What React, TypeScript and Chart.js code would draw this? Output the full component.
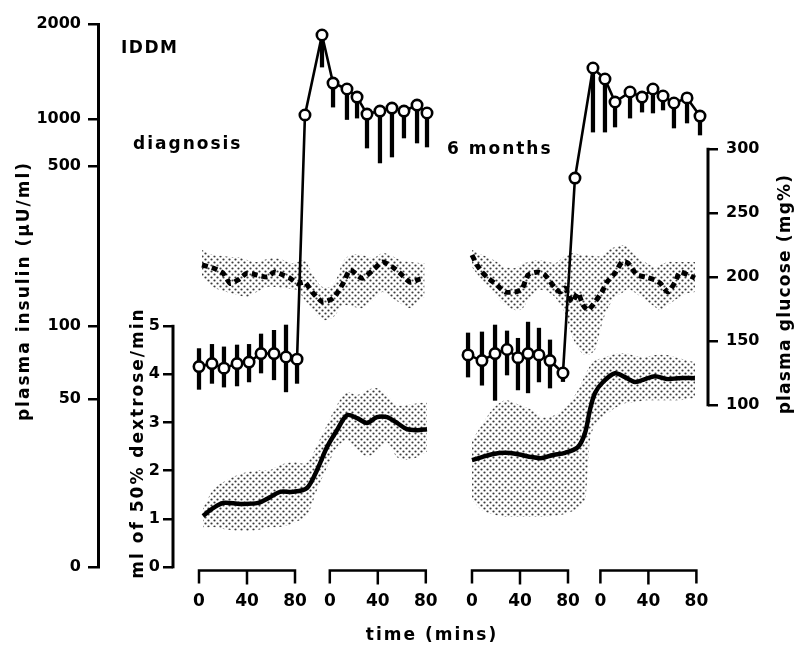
import React, { useEffect, useRef } from 'react';
import { Chart, registerables, LinearScale } from 'chart.js';

// ---------------- data ----------------
const studyLabel = 'IDDM';
const panelNames = ['diagnosis', '6 months'];
const timeTickMinutes = [0, 40, 80];
const timeTickLabels = ['0', '40', '80'];
// where each panel starts on the shared time axis, and where the clamp period axis starts inside a panel (minutes)
const PANEL_START = [0, 227.5];
const CLAMP_START = [109, 107];

const insulinTicks = [0, 50, 100, 500, 1000, 2000];
const dextroseTicks = [0, 1, 2, 3, 4, 5];
const glucoseTicks = [100, 150, 200, 250, 300];

// ---- diagnosis panel ----
const insTimeL = [0, 10.8, 20.8, 31.7, 41.7, 51.7, 62.5, 72.5, 81.7, 88.3, 102.5, 111.7, 123.3, 131.7, 140, 150.8, 160.8, 170.8, 181.7, 190];
const insulinL = [68, 70, 67, 70, 71, 77, 77, 74.5, 73, 1030, 1846, 1300, 1245, 1174, 1037, 1060, 1083, 1060, 1107, 1045];
const insErrUpL = [12.7, 14, 15, 13.5, 13, 15.7, 19, 26.5, 0, 0, 0, 0, 0, 0, 0, 0, 0, 0, 0, 0];
const insErrDownL = [13.2, 12, 11, 13.4, 12.2, 13, 17, 21, 15, 0, 385, 209, 252, 167, 385, 537, 512, 304, 405, 383];

const gluTimeL = [2.5, 11.7, 20, 26, 32.5, 40, 48, 57, 63, 70, 76, 82, 88, 95, 103, 112, 120, 126, 136, 145, 153, 161, 167.5, 176, 184, 188];
const glucoseL = [209.4, 207, 203, 195, 197.7, 203, 201.6, 200, 204, 201.6, 199, 195, 196, 187.5, 180.5, 183.6, 195, 205.5, 199, 205.5, 211.7, 208, 203, 196, 198.4, 199];
const gluHighL = [221.1, 217.2, 216.4, 215.6, 215.6, 213.3, 211.7, 214.1, 214.8, 213.3, 210.9, 211.7, 213.3, 201.6, 192.2, 193.8, 211.7, 217.2, 217.2, 214.8, 218.8, 216.4, 213.3, 211.7, 210.9, 210.9];
const gluLowL = [200, 192.2, 189.1, 187.5, 185.9, 184.4, 188.3, 192.2, 192.2, 191.4, 190.6, 189.8, 182, 174.2, 166.4, 168.8, 178.1, 177.3, 175.8, 182, 188.3, 183.6, 179.7, 175.8, 182, 184.4];

const dexTimeL = [3.3, 11.7, 20, 34.2, 49.2, 59.2, 67.5, 78.3, 90, 98.3, 106.7, 115, 123.3, 131.7, 140, 148.3, 156.7, 165, 173.3, 181.7, 190];
const dextroseL = [1.06, 1.22, 1.33, 1.31, 1.33, 1.45, 1.56, 1.56, 1.64, 2.01, 2.49, 2.84, 3.15, 3.09, 2.99, 3.11, 3.11, 2.99, 2.86, 2.84, 2.86];
const dexHighL = [1.22, 1.6, 1.76, 1.93, 2.01, 2.01, 2.12, 2.18, 2.16, 2.53, 2.95, 3.36, 3.63, 3.57, 3.67, 3.71, 3.57, 3.36, 3.36, 3.4, 3.42];
const dexLowL = [0.81, 0.83, 0.79, 0.75, 0.77, 0.83, 0.83, 0.91, 1.08, 1.6, 2.07, 2.49, 2.63, 2.43, 2.3, 2.39, 2.59, 2.28, 2.22, 2.28, 2.39];

// ---- 6 months panel ----
const insTimeR = [-3.3, 8.3, 19.2, 29.2, 38.3, 46.7, 55.8, 65, 75.8, 85.8, 100.8, 110.8, 119.2, 131.7, 141.7, 150.8, 159.2, 168.3, 179.2, 190];
const insulinR = [76, 72, 77, 80, 74, 77, 76, 72, 64, 443, 1451, 1339, 1132, 1218, 1174, 1245, 1183, 1124, 1166, 1022];
const insErrUpR = [17.6, 22.5, 24, 15.4, 15, 27, 22, 15.6, 0, 0, 0, 0, 0, 0, 0, 0, 0, 0, 0, 0];
const insErrDownR = [14.4, 15, 27.4, 17.2, 19.5, 24, 17.2, 16.5, 5, 0, 626, 514, 243, 211, 122, 200, 115, 248, 223, 232];

const gluTimeR = [0, 4.2, 8.3, 13.3, 20.8, 27.5, 35.8, 41.7, 46.7, 55, 60.8, 69.2, 73.3, 77.5, 83.3, 88.3, 92.5, 96.7, 102.5, 108.3, 112.5, 119.2, 125, 130, 137.5, 144.2, 152.5, 156.7, 163.3, 169.2, 173.3, 180, 185.8];
const glucoseR = [217.2, 209.4, 203.9, 199.2, 193.8, 188.3, 188.3, 190.6, 201.6, 203.9, 201.6, 191.4, 188.3, 191.4, 180.5, 187.5, 178.1, 174.2, 180.5, 188.3, 196.1, 203.1, 211.7, 210.9, 201.6, 200, 197.7, 195.3, 188.3, 196.1, 203.9, 201.6, 199.2];
const gluHighR = [221.1, 219.5, 217.2, 215.6, 211.7, 207.8, 207, 210.2, 211.7, 213.3, 212.5, 210.9, 213.3, 216.4, 218.8, 218, 217.2, 217.2, 216.4, 216.4, 220.3, 223.4, 225, 223.4, 215.6, 211.7, 207.8, 209.4, 211.7, 211.7, 211.7, 211.7, 211.7];
const gluLowR = [207.8, 202.3, 197.7, 192.2, 184.4, 178.1, 174.2, 175, 182, 189.8, 189.1, 184.4, 178.1, 171.9, 153.9, 144.5, 139.8, 139.1, 143, 163.3, 174.2, 184.4, 187.5, 190.6, 186.7, 182, 176.6, 174.2, 178.1, 182, 184.4, 187.5, 188.3];

const dexTimeR = [0, 8.3, 16.7, 27.5, 38.3, 50, 58.3, 66.7, 77.5, 88.3, 94.2, 98.3, 102.5, 109.2, 119.2, 127.5, 135.8, 144.2, 152.5, 162.5, 171.7, 185.8];
const dextroseR = [2.22, 2.28, 2.34, 2.37, 2.34, 2.28, 2.26, 2.32, 2.37, 2.49, 2.78, 3.26, 3.61, 3.84, 4.02, 3.94, 3.84, 3.9, 3.96, 3.9, 3.92, 3.92];
const dexHighR = [2.63, 2.95, 3.26, 3.46, 3.38, 3.26, 3.11, 3.13, 3.3, 3.67, 3.98, 4.17, 4.29, 4.34, 4.42, 4.44, 4.38, 4.36, 4.4, 4.4, 4.34, 4.25];
const dexLowR = [1.39, 1.18, 1.1, 1.04, 1.04, 1.04, 1.04, 1.06, 1.1, 1.22, 1.39, 2.63, 2.95, 3.11, 3.3, 3.4, 3.42, 3.46, 3.46, 3.46, 3.46, 3.51];

// ---------------- insulin axis (hand-drawn broken log axis) ----------------
const INS_KNOT_VALUES = [0, 50, 100, 500, 1000, 2000];
const INS_KNOT_POS = [0, 0.3094, 0.4438, 0.7385, 0.825, 1];

function insToDecimal(v: number): number {
  const V = INS_KNOT_VALUES, P = INS_KNOT_POS;
  if (v <= V[0]) return P[0];
  for (let i = 1; i < V.length; i++) {
    if (v <= V[i] || i === V.length - 1) {
      const a = V[i - 1], b = V[i];
      const f = a <= 0 ? (v - a) / (b - a) : Math.log(v / a) / Math.log(b / a);
      return P[i - 1] + f * (P[i] - P[i - 1]);
    }
  }
  return 1;
}
function insFromDecimal(d: number): number {
  const V = INS_KNOT_VALUES, P = INS_KNOT_POS;
  for (let i = 1; i < P.length; i++) {
    if (d <= P[i] || i === P.length - 1) {
      const f = (d - P[i - 1]) / (P[i] - P[i - 1]);
      const a = V[i - 1], b = V[i];
      return a <= 0 ? a + f * (b - a) : a * Math.pow(b / a, f);
    }
  }
  return V[V.length - 1];
}

class BrokenLogScale extends LinearScale {
  static id = 'brokenLog';
  static defaults = {};
  getPixelForValue(value: any) {
    if (value === null || value === undefined || isNaN(value)) return NaN;
    return (this as any).getPixelForDecimal(insToDecimal(+value));
  }
  getValueForPixel(pixel: number) {
    return insFromDecimal((this as any).getDecimalForPixel(pixel));
  }
}

Chart.register(...registerables, BrokenLogScale as any);

// ---------------- helpers ----------------
const X_MIN = -21.67;
const X_MAX = 424.17;
const FONT = 'DejaVu Sans';

const gx = (p: number, t: number) => PANEL_START[p] + t;
const pts = (p: number, ts: number[], vs: number[]) => ts.map((t, i) => ({ x: gx(p, t), y: vs[i] }));
const errBars = (p: number, ts: number[], vs: number[], up: number[], dn: number[]) =>
  ts
    .map((t, i) => (up[i] > 0 || dn[i] > 0 ? { x: gx(p, t), y: [vs[i] - dn[i], vs[i] + up[i]] } : null))
    .filter((d) => d !== null);

function makeStipple(): CanvasPattern | string {
  const c = document.createElement('canvas');
  c.width = 6;
  c.height = 6;
  const g = c.getContext('2d');
  if (!g) return 'rgba(0,0,0,0.25)';
  g.fillStyle = 'rgba(10,10,10,0.8)';
  g.beginPath();
  g.arc(1.5, 1.5, 1.1, 0, Math.PI * 2);
  g.fill();
  g.beginPath();
  g.arc(4.5, 4.5, 1.1, 0, Math.PI * 2);
  g.fill();
  return g.createPattern(c, 'repeat') || 'rgba(0,0,0,0.25)';
}

function panelDatasets(p: number, stipple: any, d: any) {
  const none = 'rgba(0,0,0,0)';
  return [
    { type: 'line', yAxisID: 'yG', data: pts(p, d.gt, d.gh), borderColor: none, borderWidth: 0, pointRadius: 0, fill: '+1', backgroundColor: stipple, tension: 0.3, order: 10 },
    { type: 'line', yAxisID: 'yG', data: pts(p, d.gt, d.gl), borderColor: none, borderWidth: 0, pointRadius: 0, fill: false, tension: 0.3, order: 10 },
    { type: 'line', yAxisID: 'yD', data: pts(p, d.dt, d.dh), borderColor: none, borderWidth: 0, pointRadius: 0, fill: '+1', backgroundColor: stipple, tension: 0.3, order: 10 },
    { type: 'line', yAxisID: 'yD', data: pts(p, d.dt, d.dl), borderColor: none, borderWidth: 0, pointRadius: 0, fill: false, tension: 0.3, order: 10 },
    { type: 'line', yAxisID: 'yD', data: pts(p, d.dt, d.dv), borderColor: '#000', borderWidth: 4.5, pointRadius: 0, fill: false, tension: 0.3, order: 5 },
    { type: 'line', yAxisID: 'yG', data: pts(p, d.gt, d.gv), borderColor: '#000', borderWidth: 5, borderDash: [6, 4], borderCapStyle: 'butt', pointRadius: 0, fill: false, tension: 0.2, order: 5 },
    { type: 'bar', yAxisID: 'yI', data: errBars(p, d.it, d.iv, d.iu, d.id), backgroundColor: '#000', barThickness: 3.6, grouped: false, order: 3 },
    { type: 'line', yAxisID: 'yI', data: pts(p, d.it, d.iv), borderColor: '#000', borderWidth: 2.6, pointRadius: 5.2, pointBackgroundColor: '#fff', pointBorderColor: '#000', pointBorderWidth: 2.6, fill: false, order: 1 },
  ];
}

function drawText(ctx: CanvasRenderingContext2D, text: string, x: number, y: number, size: number, spacing: number, align: CanvasTextAlign, rotate: boolean) {
  ctx.save();
  ctx.translate(x, y);
  if (rotate) ctx.rotate(-Math.PI / 2);
  ctx.font = `bold ${size}px "${FONT}"`;
  (ctx as any).letterSpacing = `${spacing}px`;
  ctx.textAlign = align;
  ctx.textBaseline = 'middle';
  ctx.fillStyle = '#000';
  ctx.fillText(text, 0, 0);
  ctx.restore();
}

const decorPlugin = {
  id: 'decor',
  afterDraw(chart: any) {
    const { ctx, scales, chartArea } = chart;
    const x = scales.x, yD = scales.yD, yG = scales.yG;
    ctx.save();
    ctx.strokeStyle = '#000';
    ctx.lineCap = 'butt';
    // dextrose axis line (0..5)
    ctx.lineWidth = 3;
    ctx.beginPath();
    ctx.moveTo(yD.right, yD.getPixelForValue(dextroseTicks[0]) + 1.3);
    ctx.lineTo(yD.right, yD.getPixelForValue(dextroseTicks[dextroseTicks.length - 1]) - 1.3);
    ctx.stroke();
    // glucose axis line (100..300)
    ctx.beginPath();
    ctx.moveTo(yG.left, yG.getPixelForValue(glucoseTicks[0]) + 1.3);
    ctx.lineTo(yG.left, yG.getPixelForValue(glucoseTicks[glucoseTicks.length - 1]) - 1.3);
    ctx.stroke();
    // time brackets
    const yb = chartArea.bottom + 3.5;
    ctx.lineWidth = 2.5;
    const starts: number[] = [];
    PANEL_START.forEach((ps, p) => {
      starts.push(ps);
      starts.push(ps + CLAMP_START[p]);
    });
    starts.forEach((s) => {
      const a = x.getPixelForValue(s + timeTickMinutes[0]);
      const m = x.getPixelForValue(s + timeTickMinutes[1]);
      const b = x.getPixelForValue(s + timeTickMinutes[2]);
      ctx.beginPath();
      ctx.moveTo(a, yb + 13);
      ctx.lineTo(a, yb);
      ctx.lineTo(b, yb);
      ctx.lineTo(b, yb + 13);
      ctx.moveTo(m, yb);
      ctx.lineTo(m, yb + 14);
      ctx.stroke();
      timeTickMinutes.forEach((t, i) => {
        drawText(ctx, timeTickLabels[i], x.getPixelForValue(s + t), 602, 17, 0, 'center', false);
      });
    });
    ctx.restore();

    // annotations & titles
    drawText(ctx, studyLabel, 121, 49, 17, 1.5, 'left', false);
    drawText(ctx, panelNames[0], 133, 145, 17, 2, 'left', false);
    drawText(ctx, panelNames[1], 447, 150, 17, 2, 'left', false);
    drawText(ctx, 'plasma insulin (\u00b5U/ml)', 25, 291, 17, 2, 'center', true);
    drawText(ctx, 'ml of 50% dextrose/min', 139, 443, 17, 2, 'center', true);
    drawText(ctx, 'plasma glucose (mg%)', 786, 294, 17, 1.2, 'center', true);
    drawText(ctx, 'time (mins)', 432, 636, 17, 2, 'center', false);
  },
};

export default function App() {
  const ref = useRef<HTMLCanvasElement>(null);
  useEffect(() => {
    if (!ref.current) return;
    const stipple = makeStipple();
    const left = panelDatasets(0, stipple, {
      it: insTimeL, iv: insulinL, iu: insErrUpL, id: insErrDownL,
      gt: gluTimeL, gv: glucoseL, gh: gluHighL, gl: gluLowL,
      dt: dexTimeL, dv: dextroseL, dh: dexHighL, dl: dexLowL,
    });
    const right = panelDatasets(1, stipple, {
      it: insTimeR, iv: insulinR, iu: insErrUpR, id: insErrDownR,
      gt: gluTimeR, gv: glucoseR, gh: gluHighR, gl: gluLowR,
      dt: dexTimeR, dv: dextroseR, dh: dexHighR, dl: dexLowR,
    });
    const tickFont = { family: FONT, size: 16, weight: 'bold' as const };
    const gridOpts = { drawOnChartArea: false, drawTicks: true, tickLength: 10, lineWidth: 2.5, color: '#000', offset: false };
    const chart = new Chart(ref.current, {
      type: 'line',
      data: { datasets: [...left, ...right] as any },
      plugins: [decorPlugin],
      options: {
        animation: false,
        responsive: false,
        maintainAspectRatio: false,
        events: [],
        layout: { padding: { top: 24, bottom: 85, left: 0, right: 0 } },
        plugins: { legend: { display: false }, tooltip: { enabled: false } },
        scales: {
          x: { type: 'linear', display: false, offset: false, min: X_MIN, max: X_MAX, grid: { offset: false } },
          yI: {
            type: 'brokenLog' as any,
            position: 'left',
            weight: 1,
            min: 0,
            max: 2000,
            afterBuildTicks: (s: any) => { s.ticks = insulinTicks.map((v) => ({ value: v })); },
            afterFit: (s: any) => { s.width = 98; },
            ticks: { font: tickFont, color: '#000', padding: 7, autoSkip: false, callback: (v: any) => String(v) },
            grid: gridOpts,
            border: { display: true, width: 3, color: '#000' },
          },
          yD: {
            type: 'linear',
            position: 'left',
            weight: 0,
            min: 0,
            max: 11.27,
            afterBuildTicks: (s: any) => { s.ticks = dextroseTicks.map((v) => ({ value: v })); },
            afterFit: (s: any) => { s.width = 75; },
            ticks: { font: tickFont, color: '#000', padding: 3, autoSkip: false, callback: (v: any) => String(v) },
            grid: gridOpts,
            border: { display: false },
          },
          yG: {
            type: 'linear',
            position: 'right',
            min: -26.56,
            max: 397.66,
            afterBuildTicks: (s: any) => { s.ticks = glucoseTicks.map((v) => ({ value: v })); },
            afterFit: (s: any) => { s.width = 87; },
            ticks: { font: tickFont, color: '#000', padding: 8, autoSkip: false, callback: (v: any) => String(v) },
            grid: gridOpts,
            border: { display: false },
          },
        } as any,
      },
    } as any);
    return () => chart.destroy();
  }, []);
  return (
    <div style={{ position: 'absolute', left: 0, top: 0, width: 795, height: 652, background: '#fff' }}>
      <canvas ref={ref} width={795} height={652} style={{ width: 795, height: 652, display: 'block' }} />
    </div>
  );
}
